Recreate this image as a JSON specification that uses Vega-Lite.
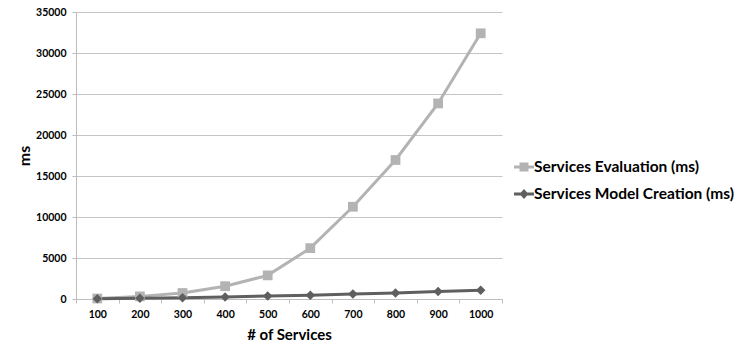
{
  "$schema": "https://vega.github.io/schema/vega-lite/v6.json",
  "autosize": {"type": "none"},
  "width": 426,
  "height": 287,
  "padding": {"left": 76, "top": 12, "right": 245, "bottom": 57},
  "background": "white",
  "config": {
    "view": {"stroke": null},
    "font": "Lato",
    "axis": {"labelFont": "Lato", "titleFont": "Lato"},
    "legend": {"labelFont": "Lato"}
  },
  "data": {
    "values": [
      {"services": "100", "series": "Services Evaluation (ms)", "ms": 60},
      {"services": "200", "series": "Services Evaluation (ms)", "ms": 320},
      {"services": "300", "series": "Services Evaluation (ms)", "ms": 730},
      {"services": "400", "series": "Services Evaluation (ms)", "ms": 1560},
      {"services": "500", "series": "Services Evaluation (ms)", "ms": 2880},
      {"services": "600", "series": "Services Evaluation (ms)", "ms": 6200},
      {"services": "700", "series": "Services Evaluation (ms)", "ms": 11250},
      {"services": "800", "series": "Services Evaluation (ms)", "ms": 16950},
      {"services": "900", "series": "Services Evaluation (ms)", "ms": 23850},
      {"services": "1000", "series": "Services Evaluation (ms)", "ms": 32400},
      {"services": "100", "series": "Services Model Creation (ms)", "ms": 30},
      {"services": "200", "series": "Services Model Creation (ms)", "ms": 80},
      {"services": "300", "series": "Services Model Creation (ms)", "ms": 150},
      {"services": "400", "series": "Services Model Creation (ms)", "ms": 250},
      {"services": "500", "series": "Services Model Creation (ms)", "ms": 370},
      {"services": "600", "series": "Services Model Creation (ms)", "ms": 460},
      {"services": "700", "series": "Services Model Creation (ms)", "ms": 600},
      {"services": "800", "series": "Services Model Creation (ms)", "ms": 740},
      {"services": "900", "series": "Services Model Creation (ms)", "ms": 920},
      {"services": "1000", "series": "Services Model Creation (ms)", "ms": 1080}
    ]
  },
  "encoding": {
    "x": {
      "field": "services",
      "type": "ordinal",
      "sort": null,
      "scale": {"type": "band", "paddingInner": 0, "paddingOuter": 0},
      "axis": {
        "title": "# of Services",
        "titleFontSize": 15,
        "titleFontWeight": "bold",
        "titleColor": "#000000",
        "titlePadding": 8,
        "labelAngle": 0,
        "labelFontSize": 10.5,
        "labelFontWeight": "bold",
        "labelColor": "#000000",
        "labelPadding": 6,
        "tickBand": "extent",
        "tickSize": 4,
        "tickColor": "#bdbdbd",
        "domainColor": "#bdbdbd",
        "grid": false
      }
    },
    "y": {
      "field": "ms",
      "type": "quantitative",
      "scale": {"domain": [0, 35000], "nice": false},
      "axis": {
        "title": "ms",
        "titleFontSize": 16,
        "titleFontWeight": "bold",
        "titleColor": "#000000",
        "titlePadding": 3,
        "values": [0, 5000, 10000, 15000, 20000, 25000, 30000, 35000],
        "format": "d",
        "labelFontSize": 10.5,
        "labelFontWeight": "bold",
        "labelColor": "#000000",
        "labelPadding": 6,
        "tickSize": 4,
        "tickColor": "#bdbdbd",
        "domainColor": "#bdbdbd",
        "grid": true,
        "gridColor": "#c4c4c4"
      }
    },
    "color": {
      "field": "series",
      "type": "nominal",
      "scale": {"domain": ["Services Evaluation (ms)", "Services Model Creation (ms)"], "range": ["#b3b3b3", "#5f5f5f"]},
      "legend": {
        "title": null,
        "orient": "none",
        "legendX": 438,
        "legendY": 145,
        "labelFontSize": 15.5,
        "labelFontWeight": "bold",
        "labelColor": "#000000",
        "labelLimit": 300,
        "labelOffset": 0,
        "rowPadding": 8,
        "padding": 0,
        "symbolSize": 400,
        "symbolOpacity": 1,
        "symbolStrokeWidth": 0,
        "symbolType": {"expr": "datum.value === 'Services Evaluation (ms)' ? 'M-1,-0.15H1V0.15H-1Z M-0.45,-0.45H0.45V0.45H-0.45Z' : 'M-1,-0.15H1V0.15H-1Z M0,-0.5L0.45,0L0,0.5L-0.45,0Z'"},
        "encode": {
          "symbols": {
            "update": {
              "shape": {"signal": "datum.value === 'Services Evaluation (ms)' ? 'M-1,-0.15H1V0.15H-1Z M-0.45,-0.45H0.45V0.45H-0.45Z' : 'M-1,-0.15H1V0.15H-1Z M0,-0.5L0.45,0L0,0.5L-0.45,0Z'"},
              "size": {"value": 400},
              "fill": {"scale": "color", "field": "value"},
              "strokeWidth": {"value": 0},
              "opacity": {"value": 1}
            }
          }
        }
      }
    }
  },
  "layer": [
    {
      "mark": {"type": "line", "strokeWidth": 3}
    },
    {
      "transform": [{"filter": "datum.series === 'Services Evaluation (ms)'"}],
      "mark": {"type": "point", "filled": true, "opacity": 1, "size": 95, "shape": "square"}
    },
    {
      "transform": [{"filter": "datum.series === 'Services Model Creation (ms)'"}],
      "mark": {"type": "point", "filled": true, "opacity": 1, "size": 90, "shape": "diamond"}
    }
  ]
}
